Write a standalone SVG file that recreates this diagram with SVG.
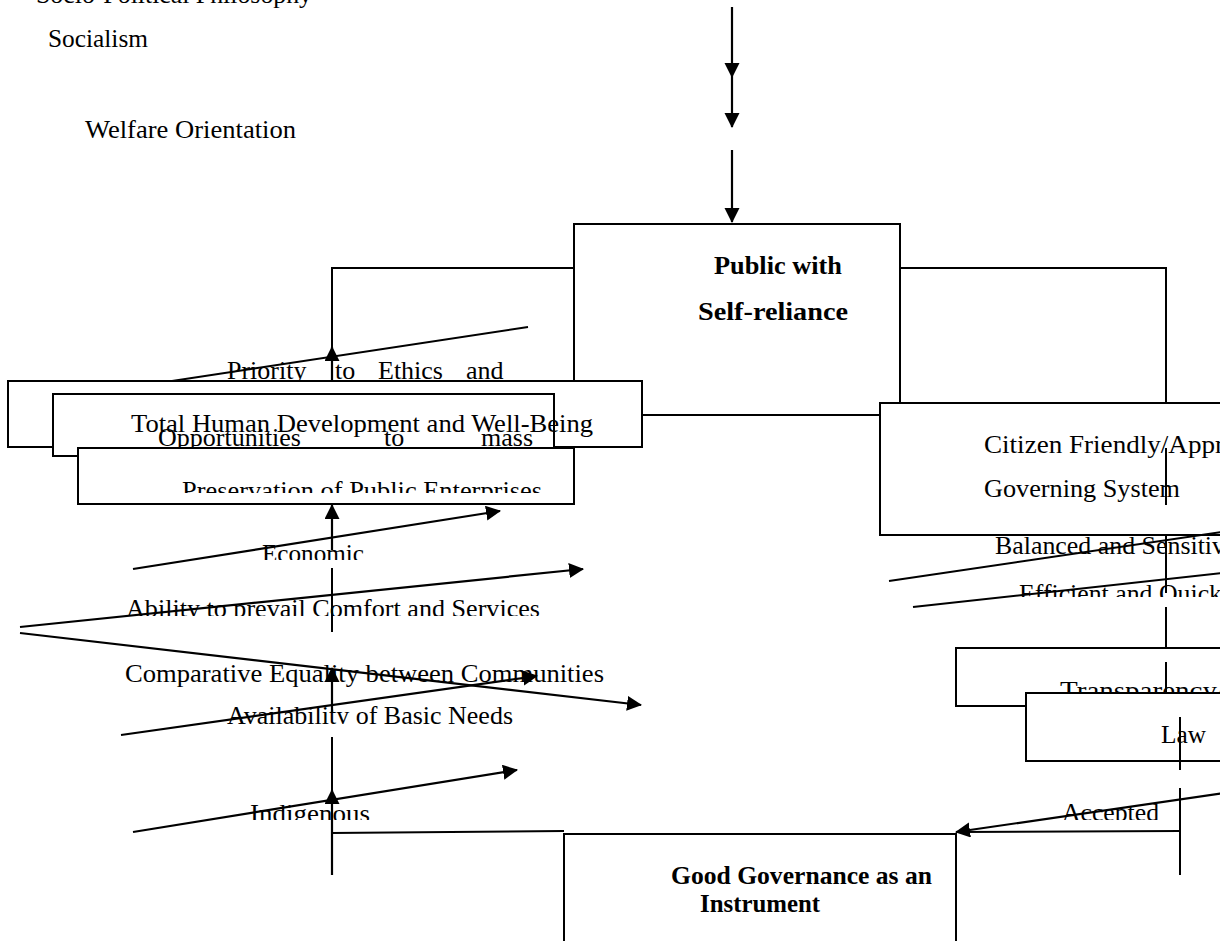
<svg xmlns="http://www.w3.org/2000/svg" width="1220" height="941" viewBox="0 0 1220 941">
<style>
  text { font-family: "Liberation Serif", "Times New Roman", serif; font-size: 26px; fill: #000; }
  .b { font-weight: bold; }
  .box { fill: #fff; stroke: #000; stroke-width: 2; }
  .ln { fill: none; stroke: #000; stroke-width: 2; }
  .ar { fill: none; stroke: #000; stroke-width: 2.2; marker-end: url(#ah); }
</style>
<defs>
  <marker id="ah" markerUnits="userSpaceOnUse" markerWidth="16" markerHeight="16" refX="14" refY="7.5" orient="auto">
    <path d="M0,0 L15,7.5 L0,15 Z" fill="#000"/>
  </marker>
  <clipPath id="cPres"><rect x="0" y="0" width="1220" height="493"/></clipPath>
  <clipPath id="cEcon"><rect x="0" y="0" width="1220" height="560"/></clipPath>
  <clipPath id="cAbil"><rect x="0" y="0" width="1220" height="616"/></clipPath>
  <clipPath id="cAvail"><rect x="0" y="0" width="1220" height="724"/></clipPath>
  <clipPath id="cIndig"><rect x="0" y="0" width="1220" height="820"/></clipPath>
  <clipPath id="cEff"><rect x="0" y="0" width="1220" height="597"/></clipPath>
  <clipPath id="cAcc"><rect x="0" y="0" width="1220" height="820"/></clipPath>
</defs>
<rect x="0" y="0" width="1220" height="941" fill="#fff"/>

<g id="socio-political">
  <text x="36" y="3" textLength="276" lengthAdjust="spacingAndGlyphs">Socio-Political Philosophy</text>
</g>
<g id="socialism">
  <text x="48" y="47" textLength="100" lengthAdjust="spacingAndGlyphs">Socialism</text>
</g>
<g id="welfare">
  <text x="85" y="138" textLength="211" lengthAdjust="spacingAndGlyphs">Welfare Orientation</text>
</g>

<g id="public">
  <rect class="box" x="574" y="224" width="326" height="191"/>
  <text class="b" x="714" y="274" textLength="128" lengthAdjust="spacingAndGlyphs">Public with</text>
  <text class="b" x="698" y="320" textLength="150" lengthAdjust="spacingAndGlyphs">Self-reliance</text>
</g>

<g id="priority">
  <text y="379"><tspan x="227">Priority</tspan><tspan x="335">to</tspan><tspan x="378">Ethics</tspan><tspan x="466">and</tspan></text>
</g>

<g id="box-a">
  <rect class="box" x="8" y="381" width="634" height="66"/>
</g>
<g id="box-b">
  <rect class="box" x="53" y="394" width="501" height="62"/>
  <text x="131" y="432" textLength="462" lengthAdjust="spacingAndGlyphs">Total Human Development and Well-Being</text>
</g>
<g id="opportunities">
  <text y="446"><tspan x="158">Opportunities</tspan><tspan x="384">to</tspan><tspan x="481">mass</tspan></text>
</g>
<g id="box-c">
  <rect class="box" x="78" y="448" width="496" height="56"/>
  <text clip-path="url(#cPres)" x="182" y="499" textLength="360" lengthAdjust="spacingAndGlyphs">Preservation of Public Enterprises</text>
</g>

<g id="economic">
  <text clip-path="url(#cEcon)" x="262" y="562" textLength="102" lengthAdjust="spacingAndGlyphs">Economic</text>
</g>
<g id="ability">
  <text clip-path="url(#cAbil)" x="126" y="617" textLength="414" lengthAdjust="spacingAndGlyphs">Ability to prevail Comfort and Services</text>
</g>
<g id="equality">
  <text x="125" y="682" textLength="479" lengthAdjust="spacingAndGlyphs">Comparative Equality between Communities</text>
</g>
<g id="basic-needs">
  <text clip-path="url(#cAvail)" x="227" y="724" textLength="286" lengthAdjust="spacingAndGlyphs">Availability of Basic Needs</text>
</g>
<g id="indigenous">
  <text clip-path="url(#cIndig)" x="250" y="822" textLength="120" lengthAdjust="spacingAndGlyphs">Indigenous</text>
</g>

<g id="citizen">
  <rect class="box" x="880" y="403" width="360" height="132"/>
  <text x="984" y="453" textLength="240" lengthAdjust="spacingAndGlyphs">Citizen Friendly/Appr</text>
  <text x="984" y="497" textLength="196" lengthAdjust="spacingAndGlyphs">Governing System</text>
</g>
<g id="balanced">
  <text x="995" y="554" textLength="230" lengthAdjust="spacingAndGlyphs">Balanced and Sensitiv</text>
</g>
<g id="efficient">
  <text clip-path="url(#cEff)" x="1019" y="602" textLength="203" lengthAdjust="spacingAndGlyphs">Efficient and Quick</text>
</g>
<g id="transparency">
  <rect class="box" x="956" y="648" width="300" height="58"/>
  <text x="1060" y="699" textLength="165" lengthAdjust="spacingAndGlyphs">Transparency/</text>
</g>
<g id="law">
  <rect class="box" x="1026" y="693" width="250" height="68"/>
  <text x="1161" y="743" textLength="45" lengthAdjust="spacingAndGlyphs">Law</text>
</g>
<g id="accepted">
  <text clip-path="url(#cAcc)" x="1062" y="821" textLength="97" lengthAdjust="spacingAndGlyphs">Accepted</text>
</g>
<g id="good-governance">
  <rect class="box" x="564" y="834" width="392" height="120"/>
  <text class="b" x="671" y="884" textLength="261" lengthAdjust="spacingAndGlyphs">Good Governance as an</text>
  <text class="b" x="700" y="912" textLength="120" lengthAdjust="spacingAndGlyphs">Instrument</text>
</g>

<g id="connectors">
  <!-- top arrows -->
  <path class="ar" d="M732,7 L732,77"/>
  <path class="ar" d="M732,77 L732,127"/>
  <path class="ar" d="M732,150 L732,222"/>
  <!-- left connector -->
  <path class="ln" d="M574,268 L332,268 L332,350"/>
  <path class="ar" d="M332,381 L332,347"/>
  <path class="ln" d="M528,327 L172,381"/>
  <!-- right connector -->
  <path class="ln" d="M900,268 L1166,268 L1166,403"/>
  <!-- left vertical chain -->
  <path class="ar" d="M332,550 L332,505"/>
  <path class="ln" d="M332,568 L332,632"/>
  <path class="ar" d="M332,713 L332,668"/>
  <path class="ln" d="M332,737 L332,875"/>
  <path class="ar" d="M332,875 L332,790"/>
  <path class="ln" d="M331,833 L564,831"/>
  <!-- left slanted arrows -->
  <path class="ar" d="M133,569 L500,511"/>
  <path class="ar" d="M20,627 L583,569"/>
  <path class="ar" d="M20,633 L641,705"/>
  <path class="ar" d="M121,735 L537,676"/>
  <path class="ar" d="M133,832 L517,770"/>
  <!-- right vertical chain -->
  <path class="ln" d="M1166,448 L1166,505"/>
  <path class="ln" d="M1166,535 L1166,593"/>
  <path class="ln" d="M1166,607 L1166,648"/>
  <path class="ln" d="M1166,662 L1166,693"/>
  <path class="ln" d="M889,581 L1222,532"/>
  <path class="ln" d="M913,607 L1222,573"/>
  <path class="ln" d="M1180,717 L1180,770"/>
  <path class="ln" d="M1180,788 L1180,875"/>
  <path class="ln" d="M1180,831 L958,832"/>
  <path class="ar" d="M1225,793 L956,832"/>
</g>
</svg>
